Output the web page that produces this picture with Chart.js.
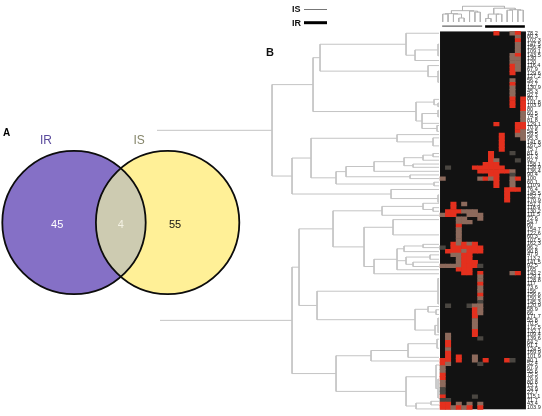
<!DOCTYPE html>
<html><head><meta charset="utf-8">
<style>
html,body{margin:0;padding:0;background:#fff;width:542px;height:416px;overflow:hidden}
#v{position:absolute;left:0;top:120px}
#b{position:absolute;left:0;top:0}
</style>
<script src="https://cdn.jsdelivr.net/npm/chart.js@4"></script>
</head><body>
<canvas id="v" width="250" height="190"></canvas><canvas id="b" width="542" height="416"></canvas>
<script>
// ---- Panel A data
const vennSets = ["IR","IS"];
const vennCounts = [45,4,55];
// ---- Panel B data
const rowLabels = ["78.2","80.3","102.3","147.5","156.4","109.1","143.5","130","120","116.4","67.9","129.6","127.2","56.2","72.7","130.9","45.3","92.7","80.7","101.8","103.9","80","60.5","74.5","81.8","129.1","70.9","54.5","59.5","95.3",
"141.8","167.3","75.7","81.6","57.3","92.7","158.1","158.9","136.4","90.4","100","60.1","110.9","76.4","145.5","152.7","170.9","157.7","118.9","130.2","111.5","72.6","54.7","60","154.7","122.6","60.3","107.5","162.3","96.2","90.8","47.9","113.2","141.5","92.5","165","143.2",
"129.1","128.8","117","73.6","156","156.6","150.5","145.3","120.9","58.9","66","171.7","55.8","70.5","172.5","132.1","109.4","139.6","64.2","61.1","124.5","169.9","101.9","40.1","52.4","67.9","55.6","75.5","76.9","80.8","15.1","24.9","22.7","115.1","71.7","43.4","103.9"];
// one string per row, one character per sample: . none, d weak, b medium, r strong
const heatRows = [
"..........r..br.","..............b.","..............r.","..............b.","..............b.","..............b.",
".............br.",".............bb.",".............bb.",".............rb.",".............rb.",".............r..",
"................",".............b..",".............r..",".............b..",".............b..",".............b..",
".............r.r",".............r.r",".............r.r","...............r","...............b","...............b",
"...............b","..........r...rr","..............rr","..............rb","...........r..bb","...........r...b",
"...........r....","...........r....","...........r....",".........r...d..",".........r......",".........rb...d.",
"........rrr.....",".d....rrrrrr....",".......rrrrrrb..",".........rr..d..","b......brbr..br.","..........r..b..",
"..........r..b..","............rrr.","............r...","............r...","............r...","..r.b...........",
"..r.............",".rrrbbb.........","brr..bbb........","...bb..b........","...bbb..........","...r............",
"...b............","...b............","...b............","...b............","..rbrbr.........","d.rrrrrr........",
".rrrbrrr........","..bbrr..........","...brr..........","...brrr.........","bbbbrrrd........","...rrr..........",
"....rr.r.....br.",".......b........",".......b........",".......r........",".......b........",".......b........",
".......r........",".......b........",".......d........",".d...dbb........","......rb........","......rb........",
"......r.........","......b.........","......b.........","......b.........","......r.........",".b....r.........",
".b.....d........",".r..............",".r..............",".b..............",".r..............",".r.r..b.........",
"rr.r..b.r...rd..","rb.....d........","b...............","b...............","r...............","r...............",
"b...............","b...............","d...............","d...............","r.....d.........","dd..............",
"rr.b.b.b........","rrbrbr.r........"];
// row dendrograms: [merge distance, ...children]; a bare number is a leaf row
const topTree = [167,
 [126,
  [119,[33,0,[24,[1,3,6.2],7.5]],[11,8.9,[1,10.4,13.5]]],
  [23,[5,18.2,[1,19.2,20.2]],[17,[1,21.2,23],24.8,[2,25.4,27]]]],
 [147,
  [128,[42,27.9,[6,28.8,31]],
   [103,[93,[65,[35,[16,[6,33.1,34],34.95],[26,36,36.9]],38],[29,39,40]],[5,41,42]]],
  [48,43,[1,44.5,46.5]]]];
const bottomTree = [147,
 [140,
  [106,
   [57,[16,46.8,[6,48,49]],50.1],
   [75,[46,51.3,55.5],
    [65,[42,[35,[16,58.1,59],60.1],[33,[9,61,62.2],[26,63,64.2]],65.1],66.2]]],
  [122,[1,67.5,74.5],[24,[11,75.2,[3,76.1,77.4]],[4,[1,78.4,82.4],83]]]],
 [103,
  [68,[31,[2,84.2,86.7],89.2],90.2],
  [33,[3,91.3,[1,95.2,100.4]],[23,[8,101.3,102.3],103.4]]]];
const sampleTree = [16,
 [11.5,[8.5,[8,0,1],[8,2,[4,3,4]]],[11,5,[10,6,7]]],
 [14,[8,[3.5,8,9],[8,10,11]],[12.5,[12,12,13],[12,14,15]]]];
const groupSpans = {IS:[-0.1,7.35],IR:[7.9,15.3]};
const rootReach = {top:282,bottom:279};

// ---- Style and layout
const FONT = '"Liberation Sans", Arial, sans-serif';
const W=542,H=416,AXIS=16;
const cellColor = {r:"#e4301e",b:"#8d6a5c",d:"#4a4641"};
const HEAT_BG = "#121212";
const px = {dist0:439, colLeft:442.7, colStep:5.37, rowTop:29.56, rowStep:3.71, sampleBase:18};

// Panel A
const vW=250,vH=190,aX=74,sep=93.6,cY=102.5,R=71.7;
const vennPlugin = {id:"venn",
 afterDatasetsDraw(c){
  const x=c.scales.x,y=c.scales.y,g=c.ctx;
  const p0=x.getPixelForValue(0),p1=x.getPixelForValue(1),py=y.getPixelForValue(0);
  g.save();
  g.beginPath();g.arc(p0,py,R,0,Math.PI*2);g.clip();
  g.beginPath();g.arc(p1,py,R,0,Math.PI*2);
  g.fillStyle="#cdcbb1";g.fill();
  g.restore();
  g.save();
  g.strokeStyle="#0c0c0c";g.lineWidth=1.8;
  [p0,p1].forEach(p=>{g.beginPath();g.arc(p,py,R,0,Math.PI*2);g.stroke();});
  g.textAlign="center";g.textBaseline="middle";
  g.font="11px "+FONT;
  g.fillStyle="#fff";
  g.fillText(vennCounts[0],x.getPixelForValue(-0.18),py+2);
  g.fillStyle="#f4f2e4";
  g.fillText(vennCounts[1],x.getPixelForValue(0.5),py+2);
  g.fillStyle="#111";
  g.fillText(vennCounts[2],x.getPixelForValue(1.08),py+2);
  g.font="12px "+FONT;
  g.fillStyle="#5a4a9c";
  g.fillText(vennSets[0],x.getPixelForValue(-0.3),21);
  g.fillStyle="#85856a";
  g.fillText(vennSets[1],x.getPixelForValue(0.695),21);
  g.font="bold 10px "+FONT;
  g.fillStyle="#000";
  g.fillText("A",6.5,13);
  g.restore();
 }};
new Chart(document.getElementById("v"),{
 type:"bubble",
 data:{datasets:[
  {data:[{x:0,y:0}],radius:R,backgroundColor:"#8570c6",borderWidth:0,clip:false},
  {data:[{x:1,y:0}],radius:R,backgroundColor:"#fff097",borderWidth:0,clip:false}]},
 options:{responsive:false,animation:false,events:[],devicePixelRatio:1,
  layout:{padding:0,autoPadding:false},
  plugins:{legend:{display:false},tooltip:{enabled:false}},
  scales:{
   x:{type:"linear",display:false,min:-aX/sep,max:(vW-aX)/sep},
   y:{type:"linear",display:false,min:-(vH-cY)/sep,max:cY/sep}}},
 plugins:[vennPlugin]});

// Panel B helpers
function rowTreeSegments(node,out){
 if(typeof node==="number") return {d:0,r:node};
 const kids=node.slice(1).map(k=>rowTreeSegments(k,out));
 const d=node[0],rs=kids.map(k=>k.r);
 const a=Math.min(...rs),b=Math.max(...rs);
 out.push({x:d,y:a},{x:d,y:b},{x:null,y:null});
 kids.forEach(k=>out.push({x:d,y:k.r},{x:k.d,y:k.r},{x:null,y:null}));
 return {d,r:(rs[0]+rs[rs.length-1])/2};
}
function rowTreeData(tree,reach){
 const out=[];const root=rowTreeSegments(tree,out);
 out.push({x:reach,y:root.r},{x:root.d,y:root.r});
 return out;
}
function sampleTreeSegments(node,out){
 if(typeof node==="number") return {h:0,c:node};
 const kids=node.slice(1).map(k=>sampleTreeSegments(k,out));
 const h=node[0],cs=kids.map(k=>k.c);
 out.push({x:Math.min(...cs),y:h},{x:Math.max(...cs),y:h},{x:null,y:null});
 kids.forEach(k=>out.push({x:k.c,y:h},{x:k.c,y:k.h},{x:null,y:null}));
 return {h,c:(cs[0]+cs[cs.length-1])/2};
}
const sampleData=[];sampleTreeSegments(sampleTree,sampleData);
const cells=[];
heatRows.forEach((s,r)=>[...s].forEach((ch,c)=>{if(ch!==".")cells.push({x:c,y:[r-.5,r+.5],k:ch});}));
const nCols=heatRows[0].length,nRows=heatRows.length;

const line=(data,x,y,color,width)=>({type:"scatter",showLine:true,data,xAxisID:x,yAxisID:y,
 borderColor:color,borderWidth:width,pointRadius:0,spanGaps:false,clip:false,order:1});

const annotate={id:"annotate",
 beforeDatasetsDraw(c){
  const {xc,y}=c.scales,g=c.ctx;
  const l=xc.getPixelForValue(-.5),r=xc.getPixelForValue(nCols-.5);
  const t=y.getPixelForValue(-.5),b=y.getPixelForValue(nRows-.5);
  g.save();g.fillStyle=HEAT_BG;g.fillRect(l,t,r-l,b-t);g.restore();
 },
 afterDraw(c){
  const g=c.ctx;
  g.save();
  g.fillStyle="#111";g.textBaseline="middle";g.textAlign="left";
  g.font="bold 9px "+FONT;
  g.fillText("IS",292,10);
  g.fillText("IR",292,23.5);
  g.font="bold 11px "+FONT;
  g.fillText("B",266,53);
  g.strokeStyle="#777";g.lineWidth=1;
  g.beginPath();g.moveTo(304,9.5);g.lineTo(327,9.5);g.stroke();
  g.strokeStyle="#000";g.lineWidth=3;
  g.beginPath();g.moveTo(304,22.7);g.lineTo(327,22.7);g.stroke();
  g.restore();
 }};

const areaR=W-AXIS;
new Chart(document.getElementById("b"),{
 type:"bar",
 data:{datasets:[
  {type:"bar",data:cells,xAxisID:"xc",yAxisID:"y",grouped:false,barPercentage:1,categoryPercentage:1,
   borderWidth:0,backgroundColor:ctx=>cellColor[ctx.raw.k],order:2},
  line(rowTreeData(topTree,rootReach.top),"xd","y","#c4c4c4",1),
  line(rowTreeData(bottomTree,rootReach.bottom),"xd","y","#c4c4c4",1),
  line(sampleData,"xc","yh","#b4b4b4",1),
  line(groupSpans.IS.map(x=>({x,y:-4.3})),"xc","yh","#666",1.4),
  line(groupSpans.IR.map(x=>({x,y:-4.6})),"xc","yh","#000",2.5)
 ]},
 options:{responsive:false,animation:false,events:[],devicePixelRatio:1,
  layout:{padding:0,autoPadding:false},
  plugins:{legend:{display:false},tooltip:{enabled:false}},
  scales:{
   xd:{type:"linear",axis:"x",display:false,offset:false,reverse:true,min:px.dist0-areaR,max:px.dist0,grid:{display:false}},
   xc:{type:"linear",axis:"x",display:false,offset:false,
       min:(0-px.colLeft)/px.colStep,max:(areaR-px.colLeft)/px.colStep,grid:{display:false}},
   yh:{type:"linear",axis:"y",display:false,min:px.sampleBase-H,max:px.sampleBase,grid:{display:false}},
   y:{type:"linear",axis:"y",position:"right",reverse:true,offset:false,
      min:(0-px.rowTop)/px.rowStep,max:(H-px.rowTop)/px.rowStep,
      grid:{display:false,drawTicks:false},border:{display:false},
      afterBuildTicks:s=>{s.ticks=rowLabels.map((_,i)=>({value:i}));},
      afterFit:s=>{s.width=AXIS;},
      ticks:{autoSkip:false,padding:1,maxRotation:0,minRotation:0,
             font:{family:FONT,size:5.5},color:"#222",
             callback:v=>rowLabels[v]}}
  }},
 plugins:[annotate]});
</script>
</body></html>
